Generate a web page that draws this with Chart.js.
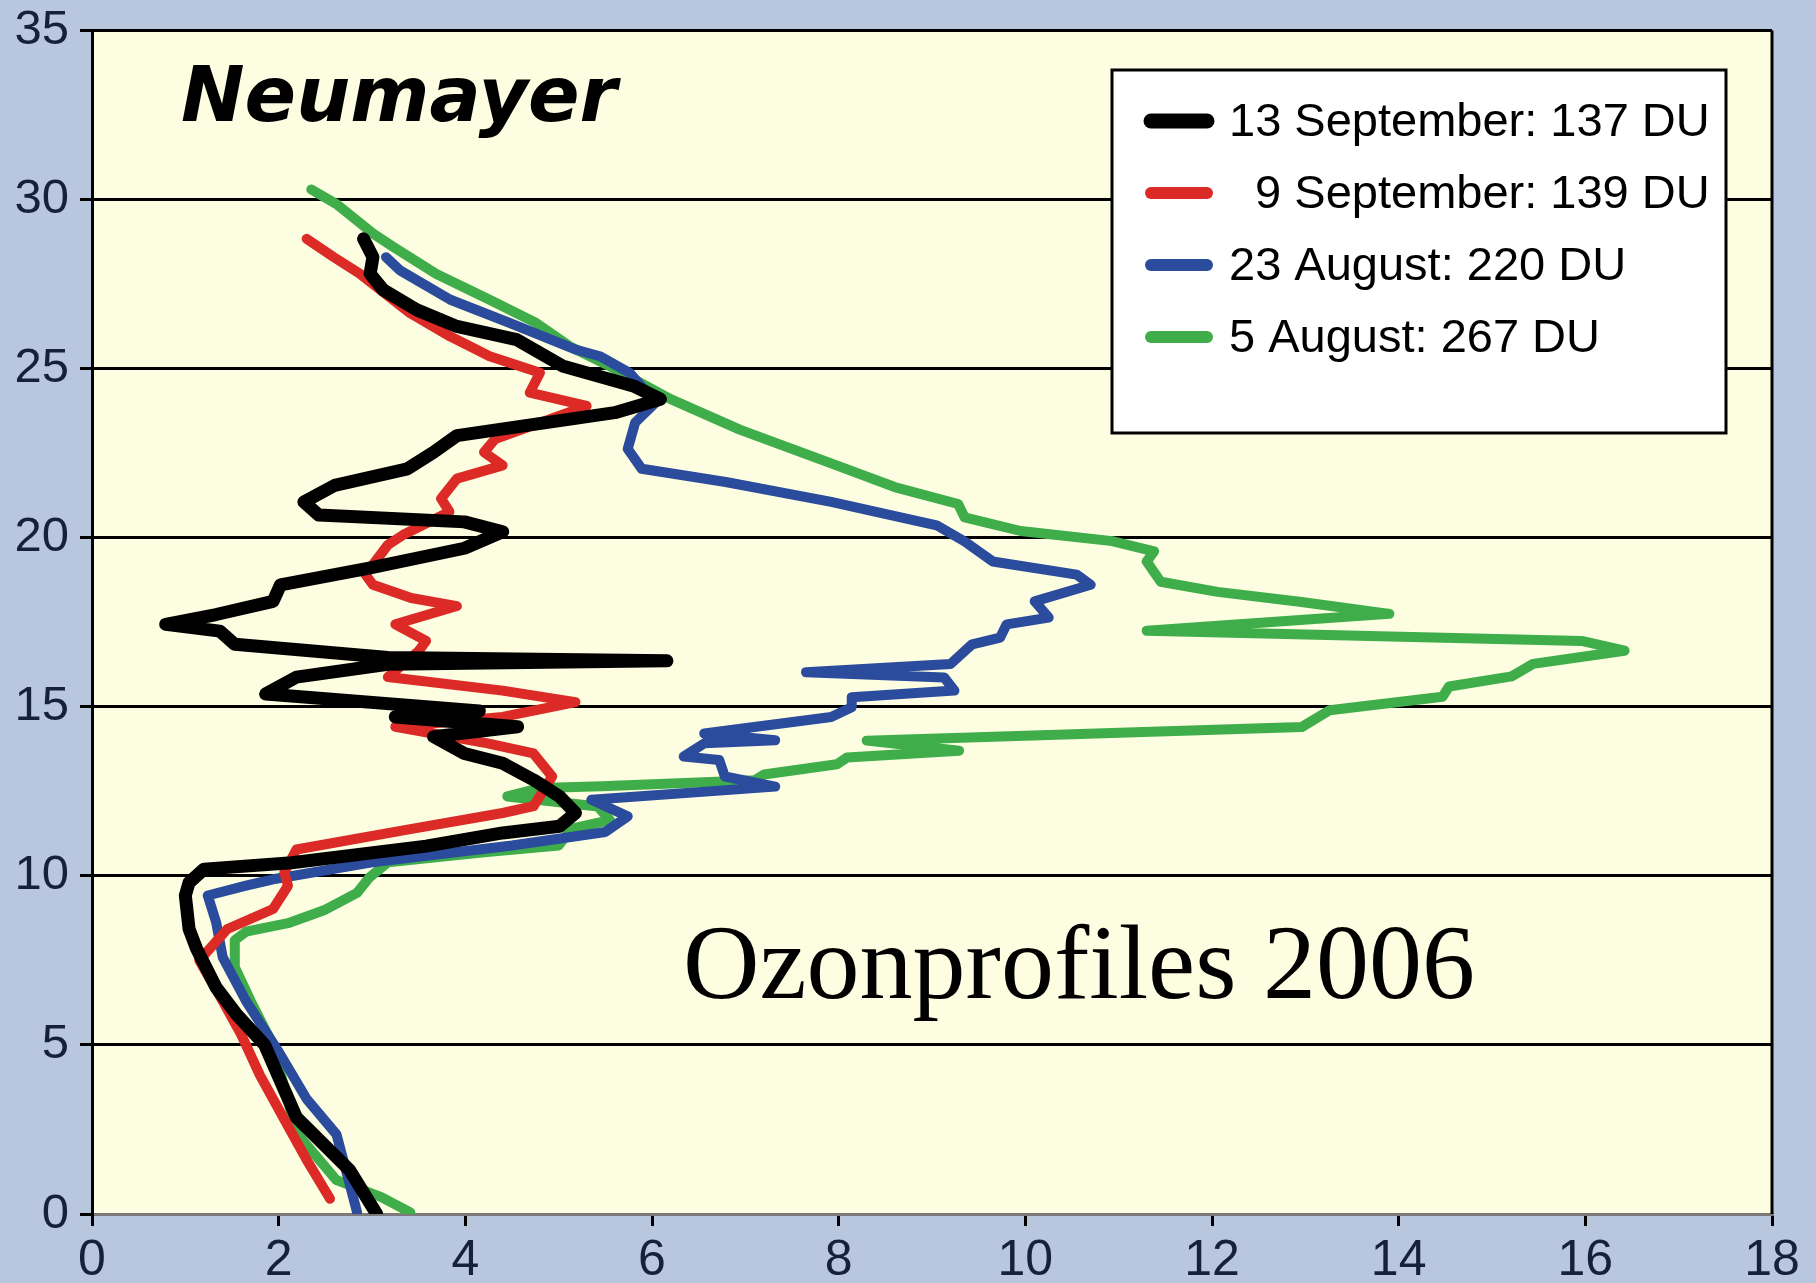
<!DOCTYPE html>
<html>
<head>
<meta charset="utf-8">
<title>Neumayer - Ozonprofiles 2006</title>
<script src="https://cdn.jsdelivr.net/npm/chart.js@4.4.1/dist/chart.umd.min.js"></script>
<style>
  html, body { margin: 0; padding: 0; background: #b8c7dd; }
  canvas { display: block; }
</style>
</head>
<body>
<canvas id="ozone" width="1816" height="1283"></canvas>
<script>
// ozone partial pressure (mPa) against altitude (km)
const seriesLabels = ["13 September: 137 DU", "  9 September: 139 DU", "23 August: 220 DU", "5 August: 267 DU"];

const sep13 = [[3.05,0],[2.76,1.3],[2.19,2.86],[1.85,5.0],[1.55,5.9],[1.33,6.7],[1.12,7.85],[1.04,8.43],[1.0,9.42],[1.04,9.8],
  [1.2,10.2],[2.14,10.39],[3.58,10.88],[4.4,11.27],[5.01,11.47],[5.18,11.86],[5.01,12.35],[4.73,12.84],[4.4,13.33],[3.99,13.62],
  [3.66,14.12],[4.56,14.41],[3.25,14.7],[4.15,14.88],[1.86,15.38],[2.19,15.88],[3.17,16.26],[6.16,16.36],[3.17,16.46],[1.53,16.85],
  [1.37,17.24],[0.79,17.44],[1.33,17.73],[1.94,18.12],[2.02,18.61],[2.97,19.1],[3.99,19.69],[4.4,20.18],[3.99,20.47],[2.43,20.67],
  [2.27,21.06],[2.6,21.55],[3.38,22.04],[3.66,22.53],[3.91,23.02],[5.6,23.7],[6.09,24.1],[5.8,24.49],[5.05,25.07],[4.55,25.86],
  [3.91,26.25],[3.48,26.74],[3.12,27.33],[2.98,27.81],[3.01,28.3],[2.91,28.84]];

const sep9 = [[2.55,0.45],[2.3,1.6],[2.12,2.5],[1.8,4.1],[1.6,5.3],[1.4,6.3],[1.15,7.5],[1.45,8.43],[1.94,9.02],[2.1,9.71],
  [2.06,10.1],[2.19,10.78],[3.38,11.37],[4.4,11.86],[4.73,12.06],[4.93,12.94],[4.73,13.62],[4.24,13.92],[3.25,14.41],[4.4,14.7],
  [5.18,15.14],[4.4,15.48],[3.17,15.88],[3.5,16.65],[3.58,16.95],[3.25,17.44],[3.91,17.98],[3.42,18.22],[3.01,18.61],[2.93,18.91],
  [3.17,19.79],[3.33,20.08],[3.83,20.77],[3.74,21.16],[3.91,21.75],[4.4,22.14],[4.2,22.53],[4.32,22.92],[5.3,23.9],[4.69,24.29],
  [4.8,24.88],[4.26,25.37],[3.84,25.95],[3.41,26.64],[2.87,27.81],[2.59,28.3],[2.3,28.84]];

const aug23 = [[2.84,0.05],[2.75,1.0],[2.62,2.35],[2.3,3.4],[2.0,4.8],[1.65,6.3],[1.4,7.6],[1.33,8.63],[1.24,9.42],[1.65,9.71],
  [1.94,9.9],[3.0,10.4],[4.5,10.9],[5.5,11.3],[5.74,11.76],[5.35,12.25],[7.32,12.64],[6.78,12.94],[6.72,13.43],[6.34,13.53],
  [6.56,13.92],[7.32,14.01],[6.56,14.21],[7.92,14.7],[8.14,14.99],[8.14,15.28],[9.24,15.48],[9.13,15.87],[7.65,16.02],[9.2,16.27],
  [9.43,16.85],[9.73,17.05],[9.8,17.44],[10.25,17.64],[10.1,18.12],[10.7,18.61],[10.55,18.91],[9.65,19.3],[9.35,19.89],[9.05,20.37],
  [7.92,21.06],[6.79,21.65],[5.89,22.04],[5.74,22.63],[5.82,23.41],[6.04,24.0],[5.76,24.88],[5.44,25.37],[5.19,25.56],[4.48,26.35],
  [3.84,27.04],[3.3,27.91],[3.15,28.3]];

const aug5 = [[3.41,0.05],[3.1,0.5],[2.62,1.0],[2.19,2.4],[1.94,5.0],[1.7,6.3],[1.53,7.3],[1.53,8.1],[1.65,8.35],[2.1,8.6],
  [2.5,9.0],[2.84,9.5],[2.97,9.95],[3.17,10.4],[4.2,10.7],[5.0,10.9],[5.14,11.4],[5.55,11.65],[5.42,12.05],[4.45,12.35],
  [4.8,12.6],[5.46,12.65],[7.1,12.83],[7.2,13.0],[7.98,13.3],[8.09,13.5],[9.29,13.7],[8.3,14.0],[12.96,14.4],[13.26,14.9],
  [14.47,15.3],[14.54,15.6],[15.21,15.9],[15.44,16.27],[16.42,16.66],[15.96,16.95],[11.3,17.25],[13.9,17.75],[12.96,18.1],[12.06,18.4],
  [11.45,18.7],[11.3,19.3],[11.38,19.6],[10.93,19.9],[9.95,20.2],[9.35,20.6],[9.28,21.0],[8.6,21.5],[7.92,22.2],[6.94,23.2],
  [6.2,24.1],[5.55,25.07],[5.12,25.66],[4.76,26.35],[4.26,27.04],[3.69,27.8],[3.23,28.6],[3.01,29.0],[2.62,29.87],[2.35,30.3]];

const xTicks = [0, 2, 4, 6, 8, 10, 12, 14, 16, 18];
const yTicks = [0, 5, 10, 15, 20, 25, 30, 35];
const stationName = "Neumayer";
const noteText = "Ozonprofiles 2006";

const colors = ["#000000", "#dc2a26", "#2b4b9c", "#3fae4a"];
const widths = [13, 10, 10, 10];
const profiles = [sep13, sep9, aug23, aug5];

const datasets = profiles.map((p, i) => ({
    label: seriesLabels[i],
    data: p.map(d => ({x: d[0], y: d[1]})),
    showLine: true,
    borderColor: colors[i],
    backgroundColor: colors[i],
    borderWidth: widths[i],
    borderJoinStyle: "round",
    borderCapStyle: "round",
    pointRadius: 0,
    tension: 0
}));

const decor = {
    id: "decor",
    beforeDraw(chart) {
        const {ctx, chartArea: a} = chart;
        ctx.save();
        ctx.fillStyle = "#b8c7dd";
        ctx.fillRect(0, 0, chart.width, chart.height);
        ctx.fillStyle = "#fdfde2";
        ctx.fillRect(a.left, a.top, a.right - a.left, a.bottom - a.top);
        ctx.restore();
    },
    afterDraw(chart) {
        const {ctx, chartArea: a} = chart;
        ctx.save();
        ctx.strokeStyle = "#000";
        ctx.lineWidth = 3;
        ctx.beginPath();
        ctx.moveTo(a.right, a.top);
        ctx.lineTo(a.right, a.bottom);
        ctx.stroke();

        ctx.fillStyle = "#000";
        ctx.textBaseline = "alphabetic";
        ctx.font = 'bold italic 76px "DejaVu Sans"';
        ctx.fillText(stationName, 181, 121);
        ctx.font = '106px "Liberation Serif"';
        ctx.fillText(noteText, 683, 998);

        // legend box
        const bx = 1112, by = 70, bw = 614, bh = 363;
        ctx.fillStyle = "#ffffff";
        ctx.fillRect(bx, by, bw, bh);
        ctx.strokeStyle = "#000";
        ctx.lineWidth = 3;
        ctx.strokeRect(bx, by, bw, bh);
        ctx.font = '47px "Liberation Sans"';
        ctx.lineCap = "round";
        seriesLabels.forEach((lab, i) => {
            const ry = 121 + i * 72;
            ctx.strokeStyle = colors[i];
            ctx.lineWidth = i === 0 ? 15 : 12;
            ctx.beginPath();
            ctx.moveTo(1151, ry);
            ctx.lineTo(1207, ry);
            ctx.stroke();
            ctx.fillStyle = "#000";
            ctx.fillText(lab, 1229, ry + 15);
        });
        ctx.restore();
    }
};

new Chart(document.getElementById("ozone"), {
    type: "scatter",
    data: { datasets: datasets },
    options: {
        responsive: false,
        animation: false,
        layout: { padding: { top: 23, right: 44, left: 0, bottom: 0 } },
        plugins: { legend: { display: false }, tooltip: { enabled: false } },
        scales: {
            x: {
                type: "linear",
                min: 0,
                max: 18,
                afterBuildTicks: s => { s.ticks = xTicks.map(v => ({value: v})); },
                afterFit: s => { s.height = 69; },
                grid: { drawOnChartArea: false, color: "#000", lineWidth: 3, tickLength: 12 },
                border: { color: "#7a7a7a", width: 3 },
                ticks: {
                    color: "#16203a",
                    padding: 10,
                    maxRotation: 0,
                    font: { family: "Liberation Sans", size: 50, lineHeight: 1 }
                }
            },
            y: {
                type: "linear",
                min: 0,
                max: 35,
                afterBuildTicks: s => { s.ticks = yTicks.map(v => ({value: v})); },
                afterFit: s => { s.width = 92; },
                grid: {
                    color: c => (c.tick && c.tick.value === 0 ? "#7a7a7a" : "#000"),
                    tickColor: "#000",
                    lineWidth: 3,
                    tickLength: 12
                },
                border: { color: "#000", width: 3 },
                ticks: {
                    color: "#16203a",
                    padding: 11,
                    font: { family: "Liberation Sans", size: 49, lineHeight: 0.8 }
                }
            }
        }
    },
    plugins: [decor]
});
</script>
</body>
</html>
